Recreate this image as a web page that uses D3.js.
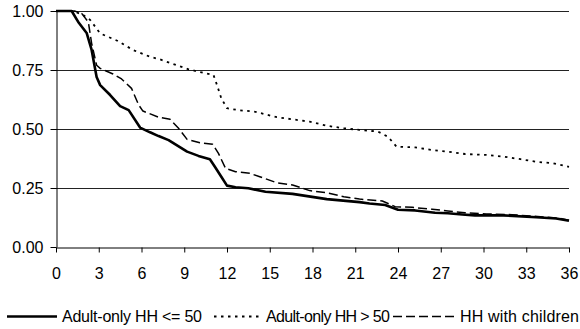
<!DOCTYPE html>
<html>
<head>
<meta charset="utf-8">
<script src="https://cdn.jsdelivr.net/npm/d3@7.9.0/dist/d3.min.js"></script>
<style>
  body { margin: 0; background: #fff; }
  svg { display: block; font-family: "Liberation Sans", Arial, sans-serif; }
</style>
</head>
<body>
<svg id="chart" width="580" height="329"></svg>
<script>
// months since start, share still in the state
const lowMonths = [0, 1.1, 1.6, 2.15, 2.5, 2.85, 3.1, 3.8, 4.5, 5.1, 5.9, 6.6, 7.2, 7.9, 9.2, 10.0, 10.8, 11.15, 11.6, 12.0, 12.6, 13.5, 14.7, 16.6, 19.0, 21.3, 22.0, 23.1, 24.0, 25.2, 26.6, 27.5, 28.5, 29.4, 31.4, 33.7, 35.1, 36];
const lowValues = [1.0, 1.0, 0.95, 0.907, 0.835, 0.72, 0.686, 0.644, 0.597, 0.58, 0.506, 0.486, 0.47, 0.453, 0.404, 0.386, 0.372, 0.34, 0.298, 0.26, 0.253, 0.249, 0.234, 0.225, 0.203, 0.19, 0.184, 0.178, 0.158, 0.155, 0.145, 0.143, 0.138, 0.134, 0.134, 0.126, 0.121, 0.111];

const oldMonths = [0, 1.2, 1.9, 2.4, 3.1, 4.3, 5.4, 6.6, 7.3, 8.1, 9.3, 10.5, 11.05, 11.3, 11.6, 12.0, 12.8, 14.0, 14.7, 15.5, 16.6, 17.8, 19.0, 20.2, 21.3, 22.6, 23.3, 23.9, 25.2, 26.4, 27.5, 28.7, 30.2, 31.4, 32.6, 33.7, 34.9, 36];
const oldValues = [1.0, 1.0, 0.983, 0.962, 0.905, 0.874, 0.835, 0.806, 0.795, 0.778, 0.753, 0.736, 0.729, 0.686, 0.63, 0.588, 0.58, 0.573, 0.562, 0.55, 0.541, 0.531, 0.514, 0.503, 0.496, 0.489, 0.467, 0.425, 0.422, 0.411, 0.404, 0.394, 0.39, 0.383, 0.372, 0.361, 0.355, 0.34];

const kidsMonths = [0, 1.3, 1.8, 2.27, 2.5, 2.85, 3.1, 4.0, 4.6, 5.3, 5.8, 6.1, 7.2, 8.0, 8.6, 9.2, 10.1, 11.0, 11.4, 11.9, 12.6, 13.6, 14.3, 15.5, 16.6, 17.8, 19.0, 20.2, 21.3, 22.9, 23.8, 25.0, 26.4, 27.5, 28.7, 30.2, 32.0, 34.0, 35.3, 36];
const kidsValues = [1.0, 1.0, 0.99, 0.953, 0.863, 0.77, 0.757, 0.733, 0.712, 0.672, 0.602, 0.576, 0.55, 0.541, 0.503, 0.456, 0.442, 0.435, 0.397, 0.333, 0.319, 0.312, 0.298, 0.272, 0.263, 0.239, 0.23, 0.213, 0.203, 0.195, 0.171, 0.168, 0.16, 0.153, 0.145, 0.14, 0.137, 0.128, 0.122, 0.113];

const seriesNames = ['Adult-only HH <= 50', 'Adult-only HH > 50', 'HH with children'];
const xTicks = d3.range(0, 37, 3);
const yTicks = [0, 0.25, 0.5, 0.75, 1];

const svg = d3.select('#chart');
const x = d3.scaleLinear().domain([0, 36]).range([56, 569]);
const y = d3.scaleLinear().domain([0, 1]).range([247, 11]);

// gridlines
svg.append('g')
  .selectAll('line')
  .data(yTicks.filter(d => d > 0))
  .join('line')
  .attr('x1', x(0)).attr('x2', x(36))
  .attr('y1', d => Math.round(y(d)) + 0.5).attr('y2', d => Math.round(y(d)) + 0.5)
  .attr('stroke', '#222').attr('stroke-width', 1);

// axes
const xAxis = svg.append('g')
  .attr('transform', `translate(0,${y(0) + 0.5})`)
  .call(d3.axisBottom(x).tickValues(xTicks).tickSize(5).tickPadding(15).tickSizeOuter(0));
const yAxis = svg.append('g')
  .attr('transform', `translate(${x(0) + 0.5},0)`)
  .call(d3.axisLeft(y).tickValues(yTicks).tickFormat(d3.format('.2f')).tickSize(6).tickPadding(7).tickSizeOuter(0));

[xAxis, yAxis].forEach(a => {
  a.select('.domain').attr('stroke', '#000');
  a.selectAll('.tick line').attr('stroke', '#000');
  a.selectAll('text').attr('fill', '#000').style('font-size', '16px')
    .style('font-family', '"Liberation Sans", Arial, sans-serif');
});

const styles = [
  { w: 2.6, dash: null },
  { w: 1.8, dash: '2.5,4.5' },
  { w: 1.5, dash: '9,4' }
];
const series = [
  d3.zip(lowMonths, lowValues),
  d3.zip(oldMonths, oldValues),
  d3.zip(kidsMonths, kidsValues)
];

const line = d3.line().x(d => x(d[0])).y(d => y(d[1]));

series.forEach((pts, i) => {
  svg.append('path')
    .datum(pts)
    .attr('d', line)
    .attr('fill', 'none')
    .attr('stroke', '#000')
    .attr('stroke-width', styles[i].w)
    .attr('stroke-dasharray', styles[i].dash)
    .attr('stroke-linejoin', 'round');
});

// legend
const legendItems = [
  { x1: 7, x2: 57, tx: 62, len: 140 },
  { x1: 214, x2: 262, tx: 266, len: 124 },
  { x1: 393, x2: 457, tx: 460, len: 119 }
];
const legend = svg.append('g');
legendItems.forEach((it, i) => {
  legend.append('line')
    .attr('x1', it.x1).attr('x2', it.x2)
    .attr('y1', 316.5).attr('y2', 316.5)
    .attr('stroke', '#000')
    .attr('stroke-width', styles[i].w)
    .attr('stroke-dasharray', styles[i].dash);
  legend.append('text')
    .attr('x', it.tx).attr('y', 322)
    .attr('textLength', it.len)
    .attr('lengthAdjust', 'spacing')
    .style('font-size', '16px')
    .attr('fill', '#000')
    .text(seriesNames[i]);
});
</script>
</body>
</html>
